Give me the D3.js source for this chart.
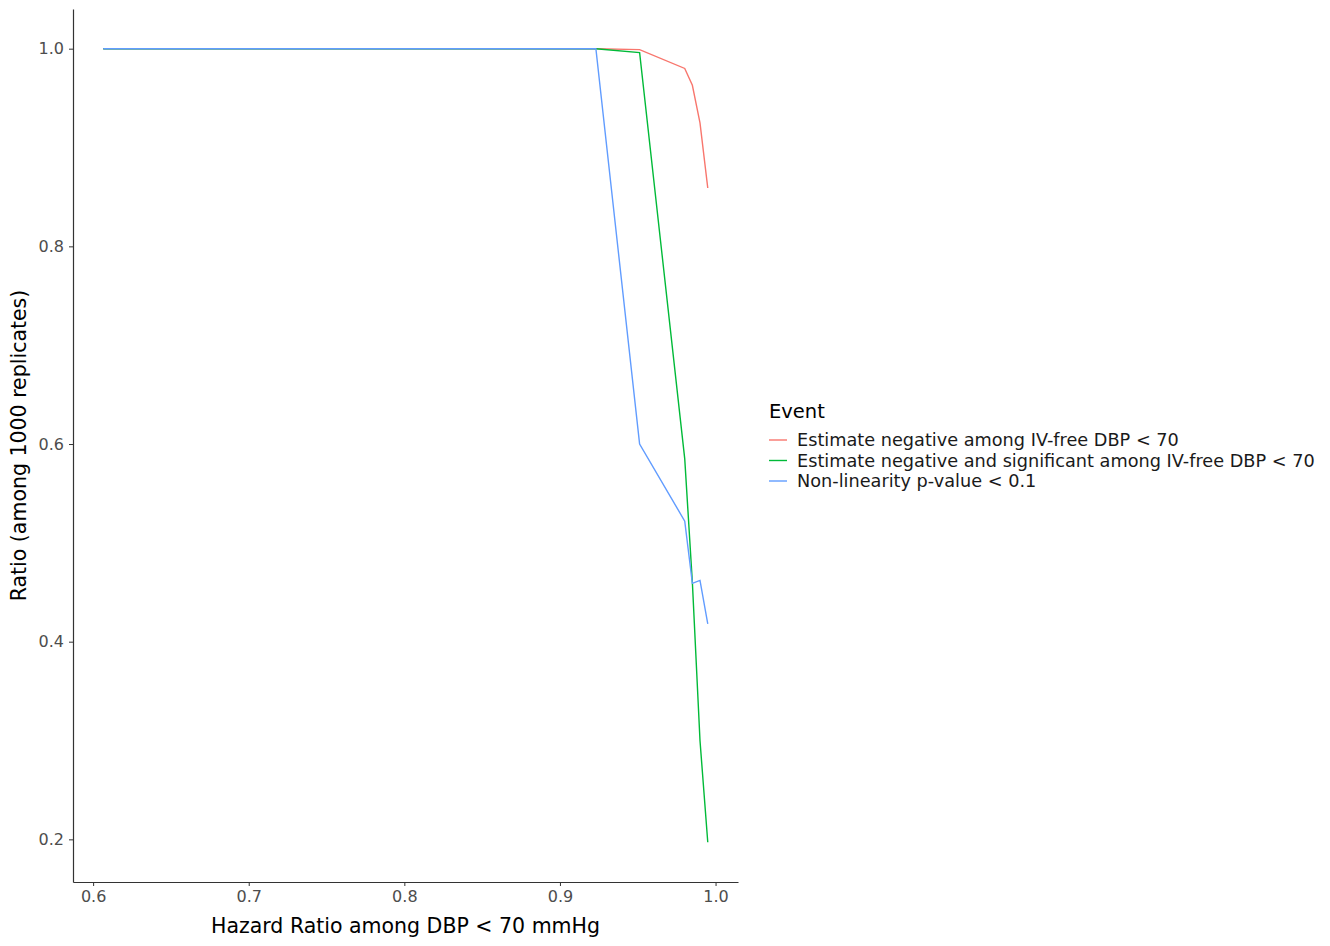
<!DOCTYPE html>
<html>
<head>
<meta charset="utf-8">
<title>Ratio vs hazard ratio</title>
<script src="https://d3js.org/d3.v7.min.js"></script>
<style>
  body { margin: 0; background: #fff; }
  text { font-family: "DejaVu Sans", Verdana, sans-serif; }
</style>
</head>
<body>
<script>
// hazard ratios where the replicates were evaluated
const hazardRatios = [0.6065, 0.8187, 0.9048, 0.9231, 0.9512, 0.9802, 0.9851, 0.9900, 0.9950];
const seriesNames = [
  'Estimate negative among IV-free DBP < 70',
  'Estimate negative and significant among IV-free DBP < 70',
  'Non-linearity p-value < 0.1'
];
const negativeRatio    = [1, 1, 1, 1, 0.999, 0.980, 0.963, 0.925, 0.859];
const significantRatio = [1, 1, 1, 1, 0.996, 0.585, 0.460, 0.300, 0.197];
const nonlinearRatio   = [1, 1, 1, 1, 0.600, 0.522, 0.459, 0.462, 0.418];
const xTicks = [0.6, 0.7, 0.8, 0.9, 1.0];
const yTicks = [0.2, 0.4, 0.6, 0.8, 1.0];
const colors = ['#F8766D', '#00BA38', '#619CFF'];

const width = 1330, height = 946;
const plotLeft = 73, plotRight = 738, plotTop = 9, plotBottom = 882;

const svg = d3.select('body').append('svg')
  .attr('width', width)
  .attr('height', height);

// ggplot style 5% expansion
const xMin = d3.min(hazardRatios), xMax = d3.max(hazardRatios);
const yMin = d3.min([negativeRatio, significantRatio, nonlinearRatio].flat());
const yMax = 1;
const xPad = (xMax - xMin) * 0.05, yPad = (yMax - yMin) * 0.05;

const x = d3.scaleLinear().domain([xMin - xPad, xMax + xPad]).range([plotLeft, plotRight]);
const y = d3.scaleLinear().domain([yMin - yPad, yMax + yPad]).range([plotBottom, plotTop]);

const xAxis = svg.append('g')
  .attr('transform', `translate(0,${plotBottom})`)
  .call(d3.axisBottom(x).tickValues(xTicks).tickFormat(d3.format('.1f')).tickSizeOuter(0).tickSizeInner(4).tickPadding(5));
const yAxis = svg.append('g')
  .attr('transform', `translate(${plotLeft},0)`)
  .call(d3.axisLeft(y).tickValues(yTicks).tickFormat(d3.format('.1f')).tickSizeOuter(0).tickSizeInner(4).tickPadding(5));

[xAxis, yAxis].forEach(g => {
  g.select('.domain').attr('stroke', '#333').attr('stroke-width', 1.2);
  g.selectAll('.tick line').attr('stroke', '#333');
  g.selectAll('.tick text').attr('fill', '#4d4d4d').style('font-size', '16px')
    .style('font-family', '"DejaVu Sans", Verdana, sans-serif');
});

svg.append('text')
  .attr('x', (plotLeft + plotRight) / 2)
  .attr('y', 933)
  .attr('text-anchor', 'middle')
  .style('font-size', '20.5px')
  .text('Hazard Ratio among DBP < 70 mmHg');

svg.append('text')
  .attr('transform', `translate(26,${(plotTop + plotBottom) / 2}) rotate(-90)`)
  .attr('text-anchor', 'middle')
  .style('font-size', '20.5px')
  .text('Ratio (among 1000 replicates)');

const series = [negativeRatio, significantRatio, nonlinearRatio];
const line = d3.line().x((d, i) => x(hazardRatios[i])).y(d => y(d));

svg.selectAll('path.series')
  .data(series)
  .enter()
  .append('path')
    .attr('class', 'series')
    .attr('d', line)
    .attr('fill', 'none')
    .attr('stroke', (d, i) => colors[i])
    .attr('stroke-width', 1.4);

// legend
const legend = svg.append('g').attr('transform', 'translate(769,0)');
legend.append('text')
  .attr('x', 0).attr('y', 418)
  .style('font-size', '19.5px')
  .text('Event');

const items = legend.selectAll('g.item')
  .data(seriesNames)
  .enter()
  .append('g')
    .attr('class', 'item')
    .attr('transform', (d, i) => `translate(0,${440 + i * 20.5})`);
items.append('line')
  .attr('x1', 0).attr('x2', 18)
  .attr('stroke', (d, i) => colors[i])
  .attr('stroke-width', 1.4);
items.append('text')
  .attr('x', 28).attr('dy', '0.35em')
  .style('font-size', '17.7px')
  .attr('fill', '#1a1a1a')
  .text(d => d);
</script>
</body>
</html>
